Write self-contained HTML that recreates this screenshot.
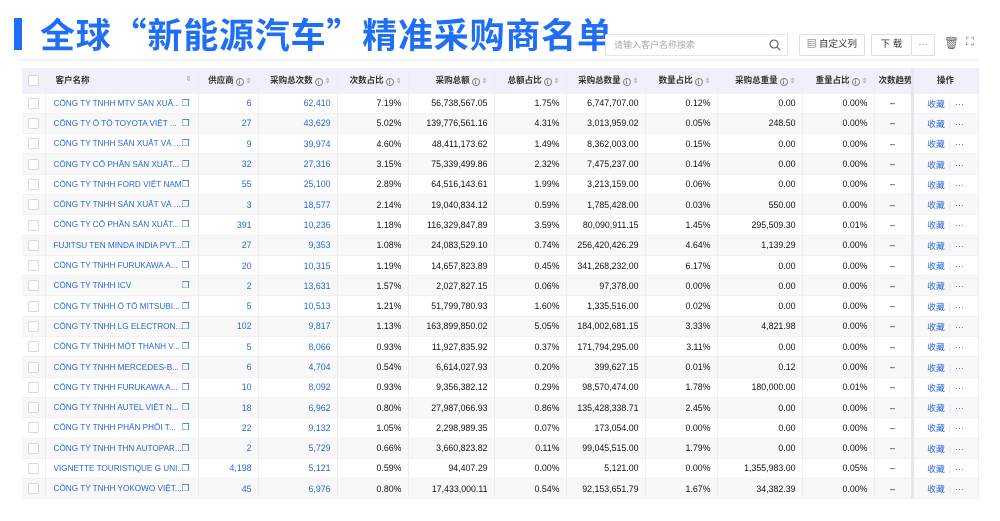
<!DOCTYPE html>
<html><head><meta charset="utf-8"><style>
*{margin:0;padding:0;box-sizing:border-box}
body{width:1000px;height:521px;background:#fff;font-family:"Liberation Sans","Noto Sans CJK SC",sans-serif;position:relative;overflow:hidden;font-size:8.8px;color:#111}
.bar{position:absolute;left:14px;top:18px;width:8px;height:32px;background:#1f6ff5}
.title{position:absolute;left:40px;top:12px;font-size:35px;font-weight:bold;color:#1f6ff5;letter-spacing:0.8px;white-space:nowrap;font-family:"Noto Sans CJK SC",sans-serif;line-height:44px}
.search{position:absolute;left:605px;top:34px;width:183px;height:22px;border:1px solid #e4e6ea;border-radius:2px;color:#aaa;font-size:9px;line-height:20px;padding-left:8px;background:#fff}
.search svg{position:absolute;right:6px;top:4px}
.btn{position:absolute;top:34px;height:22px;border:1px solid #dcdfe4;border-radius:2px;font-size:9.5px;line-height:20px;text-align:center;color:#333;background:#fff}
.topline{position:absolute;left:22px;top:59px;width:956px;height:2px;background:#f2f3f5}
table{position:absolute;left:22px;top:68px;border-collapse:collapse;table-layout:fixed;width:956px}
td,th{height:20.3px;padding:0 6px;white-space:nowrap;overflow:hidden;text-align:right;border-right:1px solid #eceef2;border-bottom:1px solid #f0f1f3}
th{height:25px;background:#eef1fa;font-weight:bold;font-size:8.5px;color:#333;font-family:"Noto Sans CJK SC",sans-serif}
tr:nth-child(even) td{background:#f8f8f9}
td.n{text-align:left;color:#2a66d8;font-size:8.2px;padding-left:8px}
td.n span{display:inline-block;width:128px;overflow:hidden;vertical-align:middle}
td.n b{font-weight:normal;font-size:9px;vertical-align:middle}
td.b{color:#2a66d8}
td.c,th.c{text-align:center}
.cb{display:inline-block;width:11px;height:11px;border:1px solid #d6d9de;border-radius:2px;background:#fff;vertical-align:middle}
.op{border-left:3px solid #e4e7ee}
.op span{color:#2a66d8}
.op i{color:#ddd;font-style:normal;margin:0 4px}
.i{display:inline-block;width:8px;height:8px;border:1px solid #888;border-radius:50%;font-size:6px;line-height:6px;text-align:center;font-weight:normal;vertical-align:-1px;margin-left:2px}
.s{color:#999;font-size:7px;margin-left:2px;font-weight:normal}
</style></head><body>
<div class="bar"></div>
<div class="title">全球“新能源汽车”精准采购商名单</div>
<div class="search">请输入客户名称搜索<svg width="12" height="12" viewBox="0 0 12 12"><circle cx="5" cy="5" r="4" fill="none" stroke="#555" stroke-width="1.1"/><line x1="8" y1="8" x2="11" y2="11" stroke="#555" stroke-width="1.1"/></svg></div>
<div class="btn" style="left:799px;width:66px">▤ 自定义列</div>
<div class="btn" style="left:871px;width:41px">下 载</div>
<div class="btn" style="left:911px;width:24px;color:#777">···</div>
<div style="position:absolute;left:944px;top:36px;font-size:12px;color:#666">🗑</div>
<div style="position:absolute;left:966px;top:36px;font-size:11px;color:#666">⛶</div>
<div class="topline"></div>
<table>
<colgroup><col style="width:23px"><col style="width:153px"><col style="width:60px"><col style="width:79px"><col style="width:71px"><col style="width:86px"><col style="width:72px"><col style="width:79px"><col style="width:72px"><col style="width:85px"><col style="width:72px"><col style="width:38px"><col style="width:66px"></colgroup>
<tr><th class="c"><span class="cb"></span></th><th style="text-align:left;padding-left:10px">客户名称<span class="s" style="float:right">⇕</span></th><th>供应商<span class="i">i</span><span class="s">⇕</span></th><th>采购总次数<span class="i">i</span><span class="s">⇕</span></th><th>次数占比<span class="i">i</span><span class="s">⇕</span></th><th>采购总额<span class="i">i</span><span class="s">⇕</span></th><th>总额占比<span class="i">i</span><span class="s">⇕</span></th><th>采购总数量<span class="i">i</span><span class="s">⇕</span></th><th>数量占比<span class="i">i</span><span class="s">⇕</span></th><th>采购总重量<span class="i">i</span><span class="s">⇕</span></th><th>重量占比<span class="i">i</span><span class="s">⇕</span></th><th style="text-align:left;padding-left:4px">次数趋势</th><th class="c op">操作</th></tr>
<tbody>
<tr><td class="c"><span class="cb"></span></td><td class="n"><span>CÔNG TY TNHH MTV SẢN XUẤ...</span><b>❐</b></td><td class="b">6</td><td class="b">62,410</td><td>7.19%</td><td>56,738,567.05</td><td>1.75%</td><td>6,747,707.00</td><td>0.12%</td><td>0.00</td><td>0.00%</td><td class="c">–</td><td class="c op"><span>收藏</span><i>|</i><span>···</span></td></tr>
<tr><td class="c"><span class="cb"></span></td><td class="n"><span>CÔNG TY Ô TÔ TOYOTA VIỆT ...</span><b>❐</b></td><td class="b">27</td><td class="b">43,629</td><td>5.02%</td><td>139,776,561.16</td><td>4.31%</td><td>3,013,959.02</td><td>0.05%</td><td>248.50</td><td>0.00%</td><td class="c">–</td><td class="c op"><span>收藏</span><i>|</i><span>···</span></td></tr>
<tr><td class="c"><span class="cb"></span></td><td class="n"><span>CÔNG TY TNHH SẢN XUẤT VÀ ...</span><b>❐</b></td><td class="b">9</td><td class="b">39,974</td><td>4.60%</td><td>48,411,173.62</td><td>1.49%</td><td>8,362,003.00</td><td>0.15%</td><td>0.00</td><td>0.00%</td><td class="c">–</td><td class="c op"><span>收藏</span><i>|</i><span>···</span></td></tr>
<tr><td class="c"><span class="cb"></span></td><td class="n"><span>CÔNG TY CỔ PHẦN SẢN XUẤT...</span><b>❐</b></td><td class="b">32</td><td class="b">27,316</td><td>3.15%</td><td>75,339,499.86</td><td>2.32%</td><td>7,475,237.00</td><td>0.14%</td><td>0.00</td><td>0.00%</td><td class="c">–</td><td class="c op"><span>收藏</span><i>|</i><span>···</span></td></tr>
<tr><td class="c"><span class="cb"></span></td><td class="n"><span>CÔNG TY TNHH FORD VIỆT NAM</span><b>❐</b></td><td class="b">55</td><td class="b">25,100</td><td>2.89%</td><td>64,516,143.61</td><td>1.99%</td><td>3,213,159.00</td><td>0.06%</td><td>0.00</td><td>0.00%</td><td class="c">–</td><td class="c op"><span>收藏</span><i>|</i><span>···</span></td></tr>
<tr><td class="c"><span class="cb"></span></td><td class="n"><span>CÔNG TY TNHH SẢN XUẤT VÀ ...</span><b>❐</b></td><td class="b">3</td><td class="b">18,577</td><td>2.14%</td><td>19,040,834.12</td><td>0.59%</td><td>1,785,428.00</td><td>0.03%</td><td>550.00</td><td>0.00%</td><td class="c">–</td><td class="c op"><span>收藏</span><i>|</i><span>···</span></td></tr>
<tr><td class="c"><span class="cb"></span></td><td class="n"><span>CÔNG TY CỔ PHẦN SẢN XUẤT...</span><b>❐</b></td><td class="b">391</td><td class="b">10,236</td><td>1.18%</td><td>116,329,847.89</td><td>3.59%</td><td>80,090,911.15</td><td>1.45%</td><td>295,509.30</td><td>0.01%</td><td class="c">–</td><td class="c op"><span>收藏</span><i>|</i><span>···</span></td></tr>
<tr><td class="c"><span class="cb"></span></td><td class="n"><span>FUJITSU TEN MINDA INDIA PVT...</span><b>❐</b></td><td class="b">27</td><td class="b">9,353</td><td>1.08%</td><td>24,083,529.10</td><td>0.74%</td><td>256,420,426.29</td><td>4.64%</td><td>1,139.29</td><td>0.00%</td><td class="c">–</td><td class="c op"><span>收藏</span><i>|</i><span>···</span></td></tr>
<tr><td class="c"><span class="cb"></span></td><td class="n"><span>CÔNG TY TNHH FURUKAWA A...</span><b>❐</b></td><td class="b">20</td><td class="b">10,315</td><td>1.19%</td><td>14,657,823.89</td><td>0.45%</td><td>341,268,232.00</td><td>6.17%</td><td>0.00</td><td>0.00%</td><td class="c">–</td><td class="c op"><span>收藏</span><i>|</i><span>···</span></td></tr>
<tr><td class="c"><span class="cb"></span></td><td class="n"><span>CÔNG TY TNHH ICV</span><b>❐</b></td><td class="b">2</td><td class="b">13,631</td><td>1.57%</td><td>2,027,827.15</td><td>0.06%</td><td>97,378.00</td><td>0.00%</td><td>0.00</td><td>0.00%</td><td class="c">–</td><td class="c op"><span>收藏</span><i>|</i><span>···</span></td></tr>
<tr><td class="c"><span class="cb"></span></td><td class="n"><span>CÔNG TY TNHH Ô TÔ MITSUBI...</span><b>❐</b></td><td class="b">5</td><td class="b">10,513</td><td>1.21%</td><td>51,799,780.93</td><td>1.60%</td><td>1,335,516.00</td><td>0.02%</td><td>0.00</td><td>0.00%</td><td class="c">–</td><td class="c op"><span>收藏</span><i>|</i><span>···</span></td></tr>
<tr><td class="c"><span class="cb"></span></td><td class="n"><span>CÔNG TY TNHH LG ELECTRON...</span><b>❐</b></td><td class="b">102</td><td class="b">9,817</td><td>1.13%</td><td>163,899,850.02</td><td>5.05%</td><td>184,002,681.15</td><td>3.33%</td><td>4,821.98</td><td>0.00%</td><td class="c">–</td><td class="c op"><span>收藏</span><i>|</i><span>···</span></td></tr>
<tr><td class="c"><span class="cb"></span></td><td class="n"><span>CÔNG TY TNHH MỘT THÀNH V...</span><b>❐</b></td><td class="b">5</td><td class="b">8,066</td><td>0.93%</td><td>11,927,835.92</td><td>0.37%</td><td>171,794,295.00</td><td>3.11%</td><td>0.00</td><td>0.00%</td><td class="c">–</td><td class="c op"><span>收藏</span><i>|</i><span>···</span></td></tr>
<tr><td class="c"><span class="cb"></span></td><td class="n"><span>CÔNG TY TNHH MERCEDES-B...</span><b>❐</b></td><td class="b">6</td><td class="b">4,704</td><td>0.54%</td><td>6,614,027.93</td><td>0.20%</td><td>399,627.15</td><td>0.01%</td><td>0.12</td><td>0.00%</td><td class="c">–</td><td class="c op"><span>收藏</span><i>|</i><span>···</span></td></tr>
<tr><td class="c"><span class="cb"></span></td><td class="n"><span>CÔNG TY TNHH FURUKAWA A...</span><b>❐</b></td><td class="b">10</td><td class="b">8,092</td><td>0.93%</td><td>9,356,382.12</td><td>0.29%</td><td>98,570,474.00</td><td>1.78%</td><td>180,000.00</td><td>0.01%</td><td class="c">–</td><td class="c op"><span>收藏</span><i>|</i><span>···</span></td></tr>
<tr><td class="c"><span class="cb"></span></td><td class="n"><span>CÔNG TY TNHH AUTEL VIỆT N...</span><b>❐</b></td><td class="b">18</td><td class="b">6,962</td><td>0.80%</td><td>27,987,066.93</td><td>0.86%</td><td>135,428,338.71</td><td>2.45%</td><td>0.00</td><td>0.00%</td><td class="c">–</td><td class="c op"><span>收藏</span><i>|</i><span>···</span></td></tr>
<tr><td class="c"><span class="cb"></span></td><td class="n"><span>CÔNG TY TNHH PHÂN PHỐI T...</span><b>❐</b></td><td class="b">22</td><td class="b">9,132</td><td>1.05%</td><td>2,298,989.35</td><td>0.07%</td><td>173,054.00</td><td>0.00%</td><td>0.00</td><td>0.00%</td><td class="c">–</td><td class="c op"><span>收藏</span><i>|</i><span>···</span></td></tr>
<tr><td class="c"><span class="cb"></span></td><td class="n"><span>CÔNG TY TNHH THN AUTOPAR...</span><b>❐</b></td><td class="b">2</td><td class="b">5,729</td><td>0.66%</td><td>3,660,823.82</td><td>0.11%</td><td>99,045,515.00</td><td>1.79%</td><td>0.00</td><td>0.00%</td><td class="c">–</td><td class="c op"><span>收藏</span><i>|</i><span>···</span></td></tr>
<tr><td class="c"><span class="cb"></span></td><td class="n"><span>VIGNETTE TOURISTIQUE G UNI...</span><b>❐</b></td><td class="b">4,198</td><td class="b">5,121</td><td>0.59%</td><td>94,407.29</td><td>0.00%</td><td>5,121.00</td><td>0.00%</td><td>1,355,983.00</td><td>0.05%</td><td class="c">–</td><td class="c op"><span>收藏</span><i>|</i><span>···</span></td></tr>
<tr><td class="c"><span class="cb"></span></td><td class="n"><span>CÔNG TY TNHH YOKOWO VIỆT...</span><b>❐</b></td><td class="b">45</td><td class="b">6,976</td><td>0.80%</td><td>17,433,000.11</td><td>0.54%</td><td>92,153,651.79</td><td>1.67%</td><td>34,382.39</td><td>0.00%</td><td class="c">–</td><td class="c op"><span>收藏</span><i>|</i><span>···</span></td></tr>
</tbody></table>
</body></html>
